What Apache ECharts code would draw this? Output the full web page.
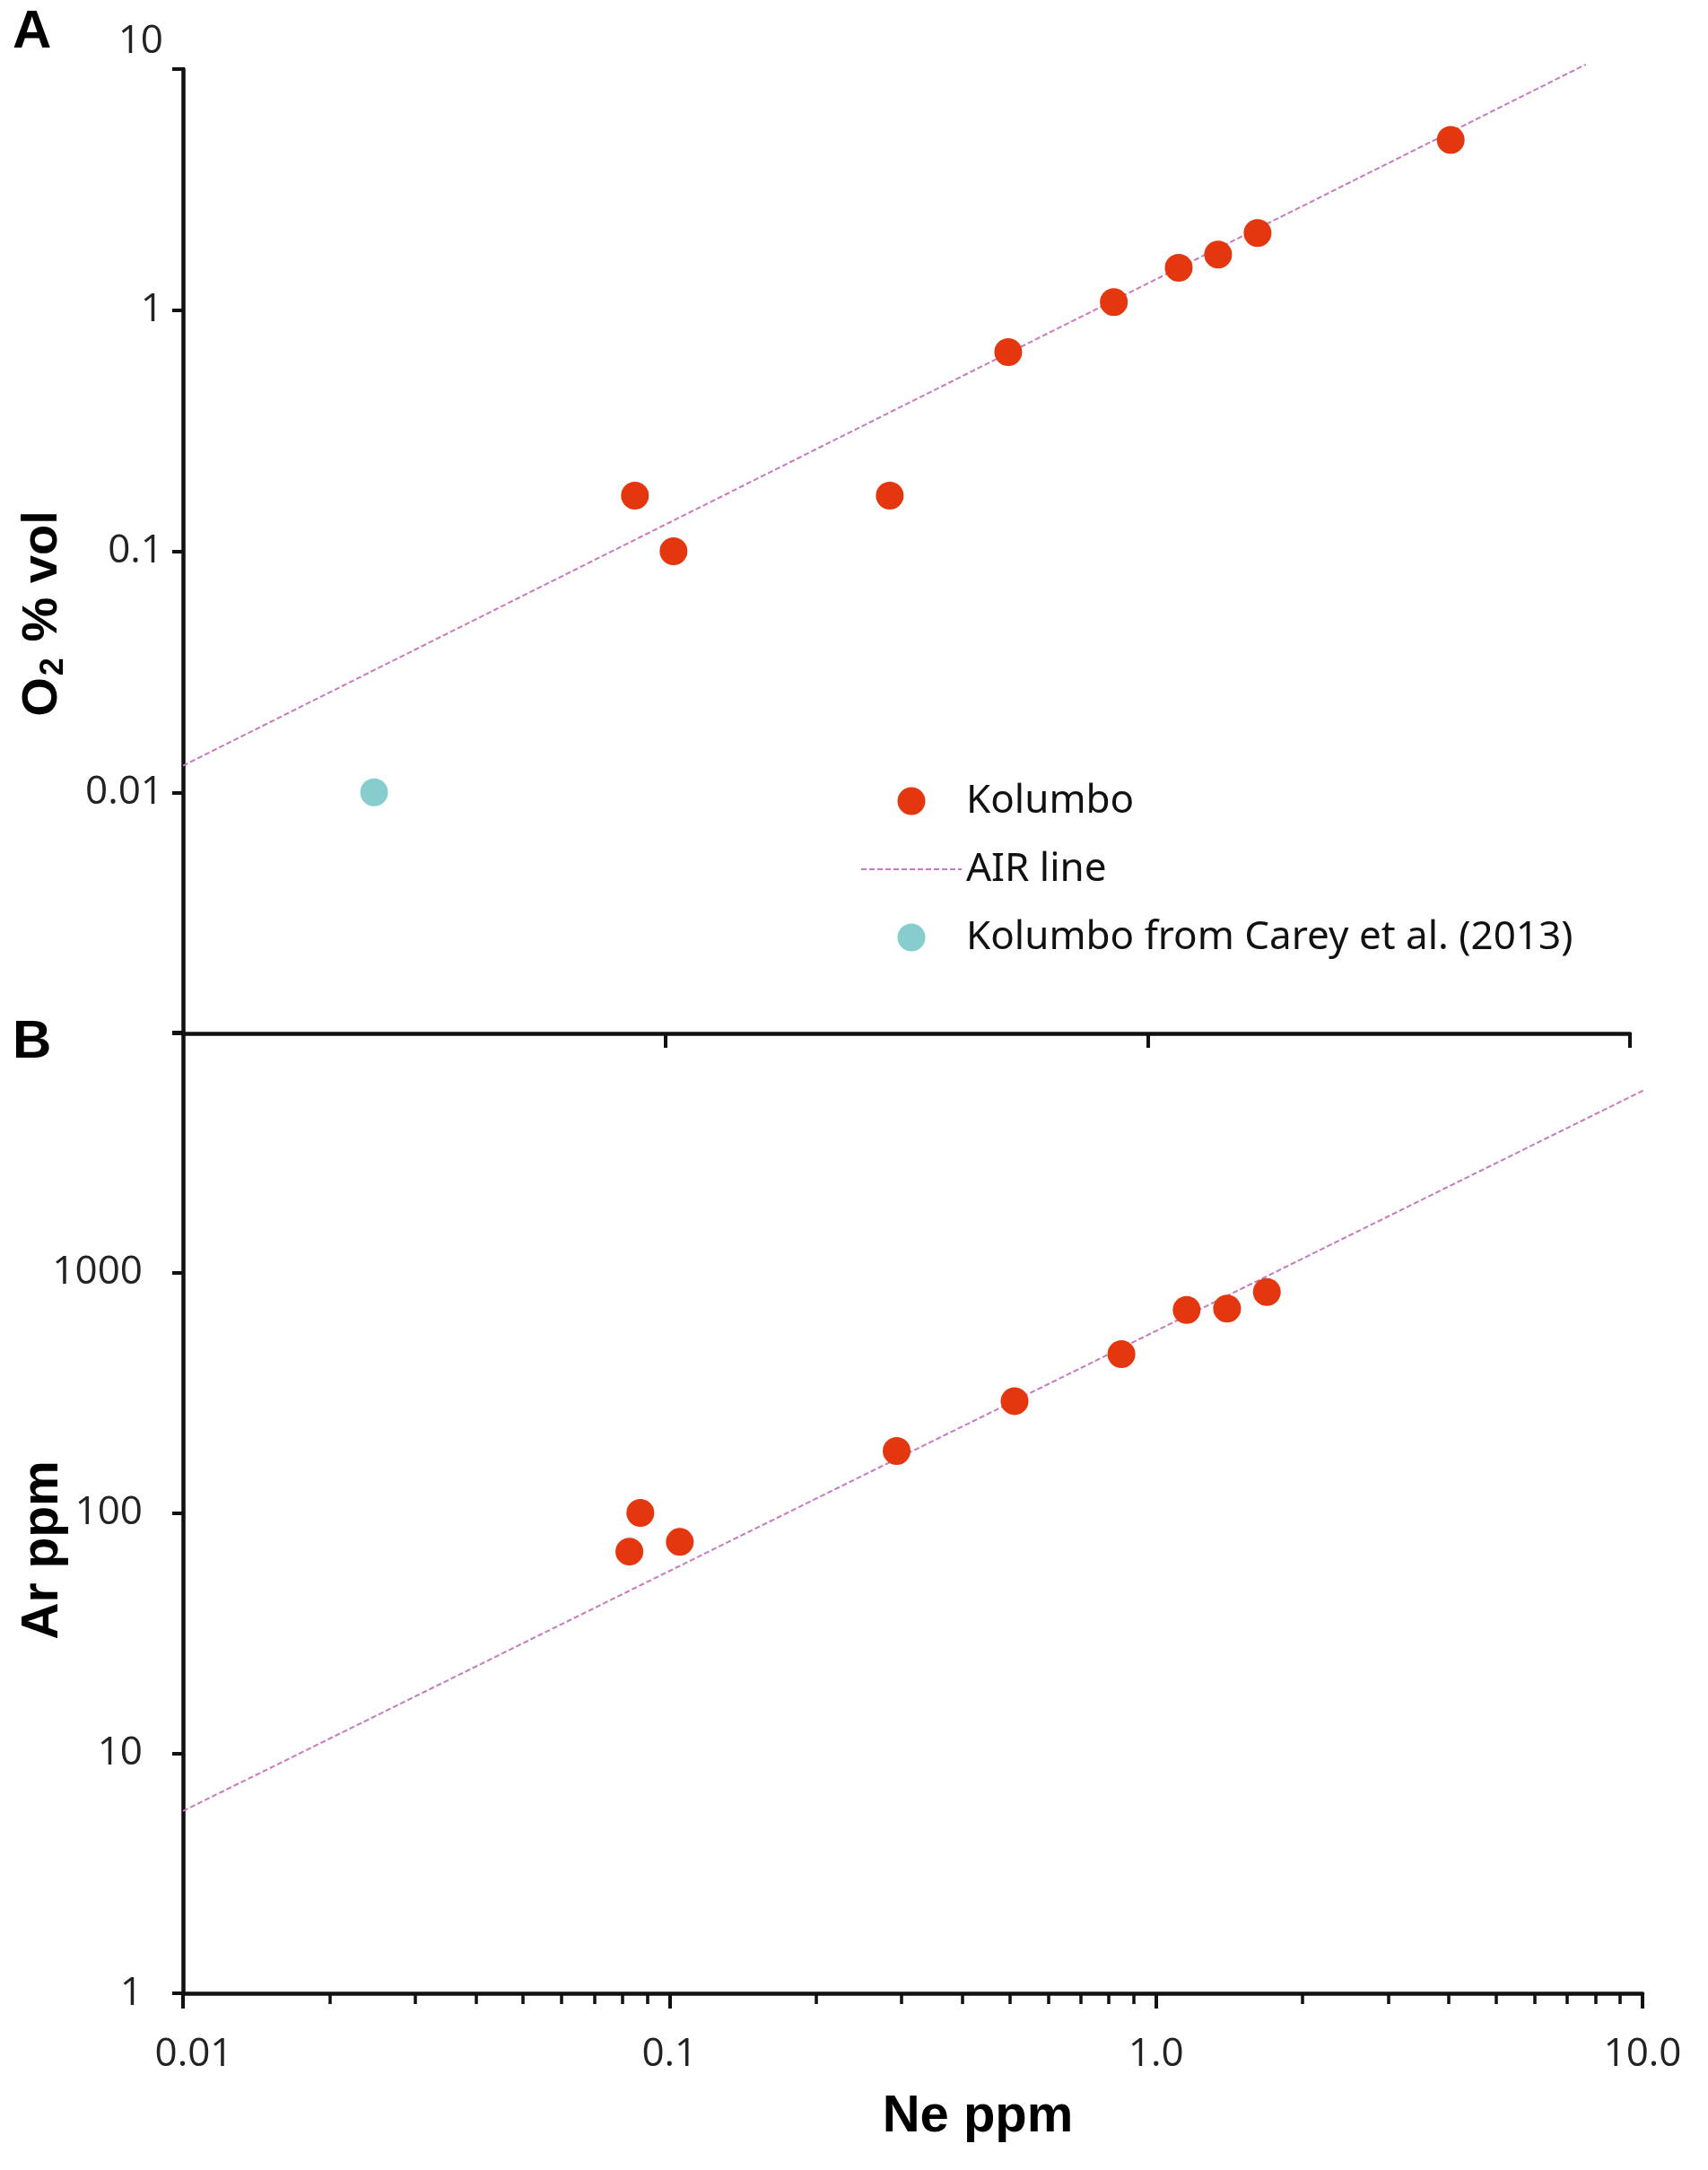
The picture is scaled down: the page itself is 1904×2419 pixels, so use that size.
<!DOCTYPE html>
<html>
<head>
<meta charset="utf-8">
<title>Kolumbo O2 / Ar vs Ne</title>
<script src="https://cdn.jsdelivr.net/npm/echarts@6.0.0/dist/echarts.min.js"></script>
<style>
  html, body { margin: 0; padding: 0; background: #fff; }
  #main { width: 1904px; height: 2419px; }
</style>
</head>
<body>
<div id="main"></div>
<script>
// panel A : O2 (% vol) against Ne (ppm)
var neKolumboA = [0.0865, 0.104, 0.292, 0.514, 0.851, 1.16, 1.40, 1.69, 4.25];
var o2Kolumbo = [0.170, 0.100, 0.170, 0.67, 1.08, 1.50, 1.70, 2.09, 5.08];
var neCarey = [0.0249];
var o2Carey = [0.01];
var neAirA = [0.01, 8.1];
var o2Air = [0.0129, 10.45];

// panel B : Ar (ppm) against Ne (ppm)
var neKolumboB = [0.0827, 0.0871, 0.105, 0.293, 0.512, 0.849, 1.156, 1.40, 1.69];
var arKolumbo = [69, 100, 75.7, 181, 292, 458, 700, 709, 831];
var neAirB = [0.01, 10.27];
var arAir = [5.74, 5870];

// ticks and labels
var xMajor = [0.01, 0.1, 1, 10];
var xMinor = [0.02, 0.03, 0.04, 0.05, 0.06, 0.07, 0.08, 0.09,
              0.2, 0.3, 0.4, 0.5, 0.6, 0.7, 0.8, 0.9,
              2, 3, 4, 5, 6, 7, 8, 9];
var xLabels = ['{f|0.01}', '0.1', '1.0', '10.0'];
var yTicksA = [0.001, 0.01, 0.1, 1, 10];
var yLabelValuesA = [0.01, 0.1, 1, 10];
var yLabelsA = ['0.01', '0.1', '1', '{up|10}'];
var yTicksB = [1, 10, 100, 1000, 10000];
var yLabelValuesB = [1, 10, 100, 1000];
var yLabelsB = ['1', '10', '100', '1000'];

var RED = '#E5370F';
var TEAL = '#88CDCD';
var AIR = '#C77ABF';
var INK = '#111';
var LABEL = '#222';
var tickFont = 'Open Sans';
var tickSize = 44;

function pairs(xs, ys) {
  var out = [];
  for (var i = 0; i < xs.length; i++) out.push([xs[i], ys[i]]);
  return out;
}
function expOf(v) { return Math.round(Math.log(v) / Math.LN10); }

var lineAxis = { lineStyle: { color: INK, width: 4.5 } };

var myChart = echarts.init(document.getElementById('main'));

var option = {
  animation: false,
  backgroundColor: '#fff',
  textStyle: { fontFamily: tickFont },
  grid: [
    { left: 204, top: 77, width: 1613, height: 1075 },
    { left: 204, top: 1151, width: 1627, height: 1071 }
  ],
  xAxis: [
    {
      type: 'log', gridIndex: 0, min: 0.01, max: 10, position: 'bottom',
      axisLine: lineAxis,
      axisTick: { customValues: [0.1, 1, 10], length: 16, lineStyle: { color: INK, width: 4 } },
      axisLabel: { show: false },
      splitLine: { show: false }
    },
    {
      type: 'log', gridIndex: 1, min: 0.01, max: 10, position: 'bottom',
      axisLine: lineAxis,
      axisTick: { customValues: xMinor, length: 12, lineStyle: { color: INK, width: 3.5 } },
      axisLabel: {
        customValues: xMajor, margin: 46, fontSize: tickSize, color: LABEL, fontFamily: tickFont,
        formatter: function (v) { return xLabels[expOf(v) + 2]; },
        rich: {
          f: { fontSize: tickSize, color: LABEL, fontFamily: tickFont, padding: [0, 0, 0, 24] }
        }
      },
      splitLine: { show: false }
    },
    {
      type: 'log', gridIndex: 1, min: 0.01, max: 10, position: 'bottom',
      axisLine: { show: false },
      axisTick: { customValues: xMajor, length: 17, lineStyle: { color: INK, width: 4 } },
      axisLabel: { show: false },
      splitLine: { show: false }
    }
  ],
  yAxis: [
    {
      type: 'log', gridIndex: 0, min: 0.001, max: 10,
      axisLine: lineAxis,
      axisTick: { customValues: yTicksA, length: 12, lineStyle: { color: INK, width: 4 } },
      axisLabel: {
        customValues: yLabelValuesA, margin: 22, fontSize: tickSize, color: LABEL, fontFamily: tickFont,
        formatter: function (v) { return yLabelsA[expOf(v) + 2]; },
        rich: {
          up: { fontSize: tickSize, color: LABEL, fontFamily: tickFont, padding: [0, 0, 62, 0] }
        }
      },
      splitLine: { show: false }
    },
    {
      type: 'log', gridIndex: 1, min: 1, max: 10000,
      axisLine: lineAxis,
      axisTick: { customValues: yTicksB, length: 12, lineStyle: { color: INK, width: 4 } },
      axisLabel: {
        customValues: yLabelValuesB, margin: 45, fontSize: tickSize, color: LABEL, fontFamily: tickFont,
        formatter: function (v) { return yLabelsB[expOf(v)]; }
      },
      splitLine: { show: false }
    }
  ],
  legend: {
    data: [
      'Kolumbo',
      { name: 'AIR line', itemStyle: { opacity: 0 } },
      'Kolumbo from Carey et al. (2013)'
    ],
    orient: 'vertical',
    left: 954,
    top: 866,
    itemWidth: 112,
    itemHeight: 31,
    itemGap: 32,
    textStyle: { fontSize: 44, fontFamily: 'Noto Sans', color: INK }
  },
  graphic: [
    { type: 'text', left: 14, top: 6, style: { text: 'A', font: 'bold 60px "Liberation Sans"', fill: '#000' } },
    { type: 'text', left: 14, top: 1132, style: { text: 'B', font: 'bold 60px "Liberation Sans"', fill: '#000' } },
    {
      type: 'text', x: 48, y: 684, rotation: Math.PI / 2,
      style: {
        text: '{b|O}{s|2}{b| % vol}', align: 'center', verticalAlign: 'middle',
        rich: {
          b: { font: 'bold 56px "Liberation Sans"', fill: '#000', lineHeight: 60 },
          s: { font: 'bold 36px "Liberation Sans"', fill: '#000', lineHeight: 60, verticalAlign: 'bottom', padding: [22, 2, 0, 2] }
        }
      }
    },
    {
      type: 'text', x: 48, y: 1728, rotation: Math.PI / 2,
      style: { text: 'Ar ppm', font: 'bold 57px "Liberation Sans"', fill: '#000', align: 'center', verticalAlign: 'middle' }
    },
    {
      type: 'text', x: 1090, y: 2360,
      style: { text: 'Ne ppm', font: 'bold 58px "Liberation Sans"', fill: '#000', align: 'center', verticalAlign: 'middle' }
    }
  ],
  series: [
    {
      name: 'AIR line', type: 'line', xAxisIndex: 0, yAxisIndex: 0,
      data: pairs(neAirA, o2Air), symbol: 'none', clip: false, z: 2,
      itemStyle: { color: AIR },
      lineStyle: { color: AIR, width: 2, type: [6, 3] }
    },
    {
      name: 'Kolumbo', type: 'scatter', xAxisIndex: 0, yAxisIndex: 0,
      data: pairs(neKolumboA, o2Kolumbo), symbolSize: 31, z: 3,
      itemStyle: { color: RED, opacity: 1 }
    },
    {
      name: 'Kolumbo from Carey et al. (2013)', type: 'scatter', xAxisIndex: 0, yAxisIndex: 0,
      data: pairs(neCarey, o2Carey), symbolSize: 31, z: 3,
      itemStyle: { color: TEAL, opacity: 1 }
    },
    {
      name: 'AIR line', type: 'line', xAxisIndex: 1, yAxisIndex: 1,
      data: pairs(neAirB, arAir), symbol: 'none', clip: false, z: 2,
      itemStyle: { color: AIR },
      lineStyle: { color: AIR, width: 2, type: [6, 3] }
    },
    {
      name: 'Kolumbo', type: 'scatter', xAxisIndex: 1, yAxisIndex: 1,
      data: pairs(neKolumboB, arKolumbo), symbolSize: 31, z: 3,
      itemStyle: { color: RED, opacity: 1 }
    }
  ]
};

myChart.setOption(option);
</script>
</body>
</html>
